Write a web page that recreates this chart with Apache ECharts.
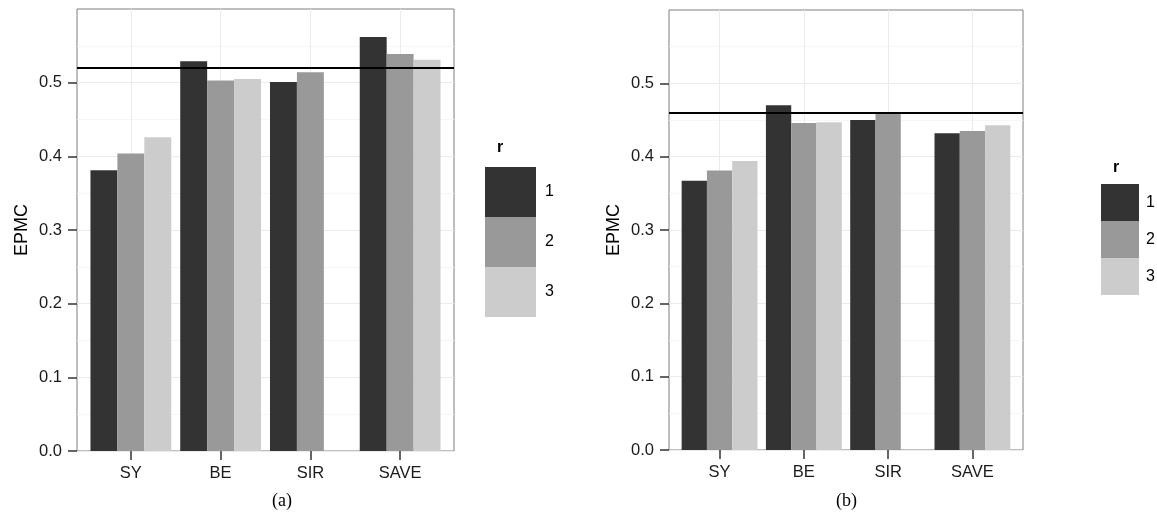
<!DOCTYPE html>
<html>
<head>
<meta charset="utf-8">
<script src="https://cdn.jsdelivr.net/npm/echarts@6/dist/echarts.min.js"></script>
<style>
  html, body { margin: 0; padding: 0; background: #fff; }
  #chart { width: 1157px; height: 518px; }
</style>
</head>
<body>
<div id="chart"></div>
<script>
const categories = ["SY", "BE", "SIR", "SAVE"];
const rLevels = ["1", "2", "3"];
const fills = ["#333333", "#999999", "#cccccc"];

// panel (a)
const epmcA1 = [0.381, 0.529, 0.501, 0.562];
const epmcA2 = [0.404, 0.503, 0.514, 0.539];
const epmcA3 = [0.426, 0.505, null, 0.531];
const refLineA = 0.520;

// panel (b)
const epmcB1 = [0.367, 0.470, 0.450, 0.432];
const epmcB2 = [0.381, 0.446, 0.461, 0.435];
const epmcB3 = [0.394, 0.447, null, 0.443];
const refLineB = 0.462;

const yTicks = [0, 0.1, 0.2, 0.3, 0.4, 0.5];
const catPos = categories.map((c, i) => i + 1);

const font = "Liberation Sans, Arial, Helvetica, sans-serif";

function toPairs(values) {
  return values
    .map((v, i) => (v == null ? null : [catPos[i], v]))
    .filter((d) => d !== null);
}

function xAxisFor(gridIndex) {
  return {
    type: "value",
    gridIndex,
    min: 0.4,
    max: 4.6,
    axisLine: { show: false },
    axisTick: { show: true, length: 9, customValues: catPos, lineStyle: { color: "#333", width: 1.5 } },
    axisLabel: {
      customValues: catPos,
      formatter: (v) => categories[Math.round(v) - 1] || "",
      color: "#1a1a1a",
      fontSize: 16.5,
      fontFamily: font,
      margin: 14,
    },
    splitLine: { show: true, lineStyle: { color: "#ebebeb", width: 1 } },
  };
}

function yAxisFor(gridIndex) {
  return {
    type: "value",
    gridIndex,
    min: 0,
    max: 0.6,
    interval: 0.1,
    name: "EPMC",
    nameLocation: "middle",
    nameGap: 46,
    nameTextStyle: { fontSize: 18, color: "#000", fontFamily: font },
    axisLine: { show: false },
    axisTick: { show: true, length: 9, customValues: yTicks, lineStyle: { color: "#333", width: 1.5 } },
    axisLabel: {
      customValues: yTicks,
      formatter: (v) => v.toFixed(1),
      color: "#1a1a1a",
      fontSize: 16.5,
      fontFamily: font,
      margin: 15,
    },
    splitLine: { show: true, lineStyle: { color: "#ebebeb", width: 1 } },
    minorTick: { show: false, splitNumber: 2 },
    minorSplitLine: { show: true, lineStyle: { color: "#f6f6f6", width: 1 } },
  };
}

function barSeries(name, values, idx, refLine) {
  const s = {
    name,
    type: "bar",
    xAxisIndex: idx,
    yAxisIndex: idx,
    data: toPairs(values),
    barGap: "0%",
    barCategoryGap: "10%",
    itemStyle: { color: fills[rLevels.indexOf(name)] },
    emphasis: { disabled: true },
  };
  if (refLine != null) {
    s.markLine = {
      silent: true,
      symbol: "none",
      label: { show: false },
      lineStyle: { color: "#000", width: 1.8, type: "solid" },
      data: [{ yAxis: refLine }],
      z: 10,
    };
  }
  return s;
}

const chart = echarts.init(document.getElementById("chart"));
chart.setOption({
  animation: false,
  backgroundColor: "#fff",
  grid: [
    { left: 77, top: 9, width: 377, height: 442, show: true, borderColor: "#7f7f7f", borderWidth: 1, backgroundColor: "#fff" },
    { left: 669, top: 10, width: 354, height: 440, show: true, borderColor: "#7f7f7f", borderWidth: 1, backgroundColor: "#fff" },
  ],
  xAxis: [xAxisFor(0), xAxisFor(1)],
  yAxis: [yAxisFor(0), yAxisFor(1)],
  legend: [
    {
      data: rLevels,
      orient: "vertical",
      left: 485,
      top: 167,
      padding: 0,
      itemGap: 0,
      itemWidth: 51,
      itemHeight: 50,
      icon: "rect",
      selectedMode: false,
      textStyle: { fontSize: 16, color: "#000", fontFamily: font, padding: [0, 0, 0, 4] },
    },
    {
      data: rLevels,
      orient: "vertical",
      left: 1101,
      top: 184,
      padding: 0,
      itemGap: 0,
      itemWidth: 38,
      itemHeight: 37,
      icon: "rect",
      selectedMode: false,
      textStyle: { fontSize: 16, color: "#000", fontFamily: font, padding: [0, 0, 0, 2] },
    },
  ],
  graphic: [
    { type: "text", left: 497, top: 140, style: { text: "r", font: "bold 16px " + font, fill: "#000" } },
    { type: "text", left: 1113, top: 160, style: { text: "r", font: "bold 16px " + font, fill: "#000" } },
    { type: "text", left: 272, top: 492, style: { text: "(a)", font: "18px Liberation Serif, Times New Roman, serif", fill: "#000" } },
    { type: "text", left: 836, top: 492, style: { text: "(b)", font: "18px Liberation Serif, Times New Roman, serif", fill: "#000" } },
  ],
  series: [
    barSeries("1", epmcA1, 0, refLineA),
    barSeries("2", epmcA2, 0),
    barSeries("3", epmcA3, 0),
    barSeries("1", epmcB1, 1, refLineB),
    barSeries("2", epmcB2, 1),
    barSeries("3", epmcB3, 1),
  ],
});
</script>
</body>
</html>
